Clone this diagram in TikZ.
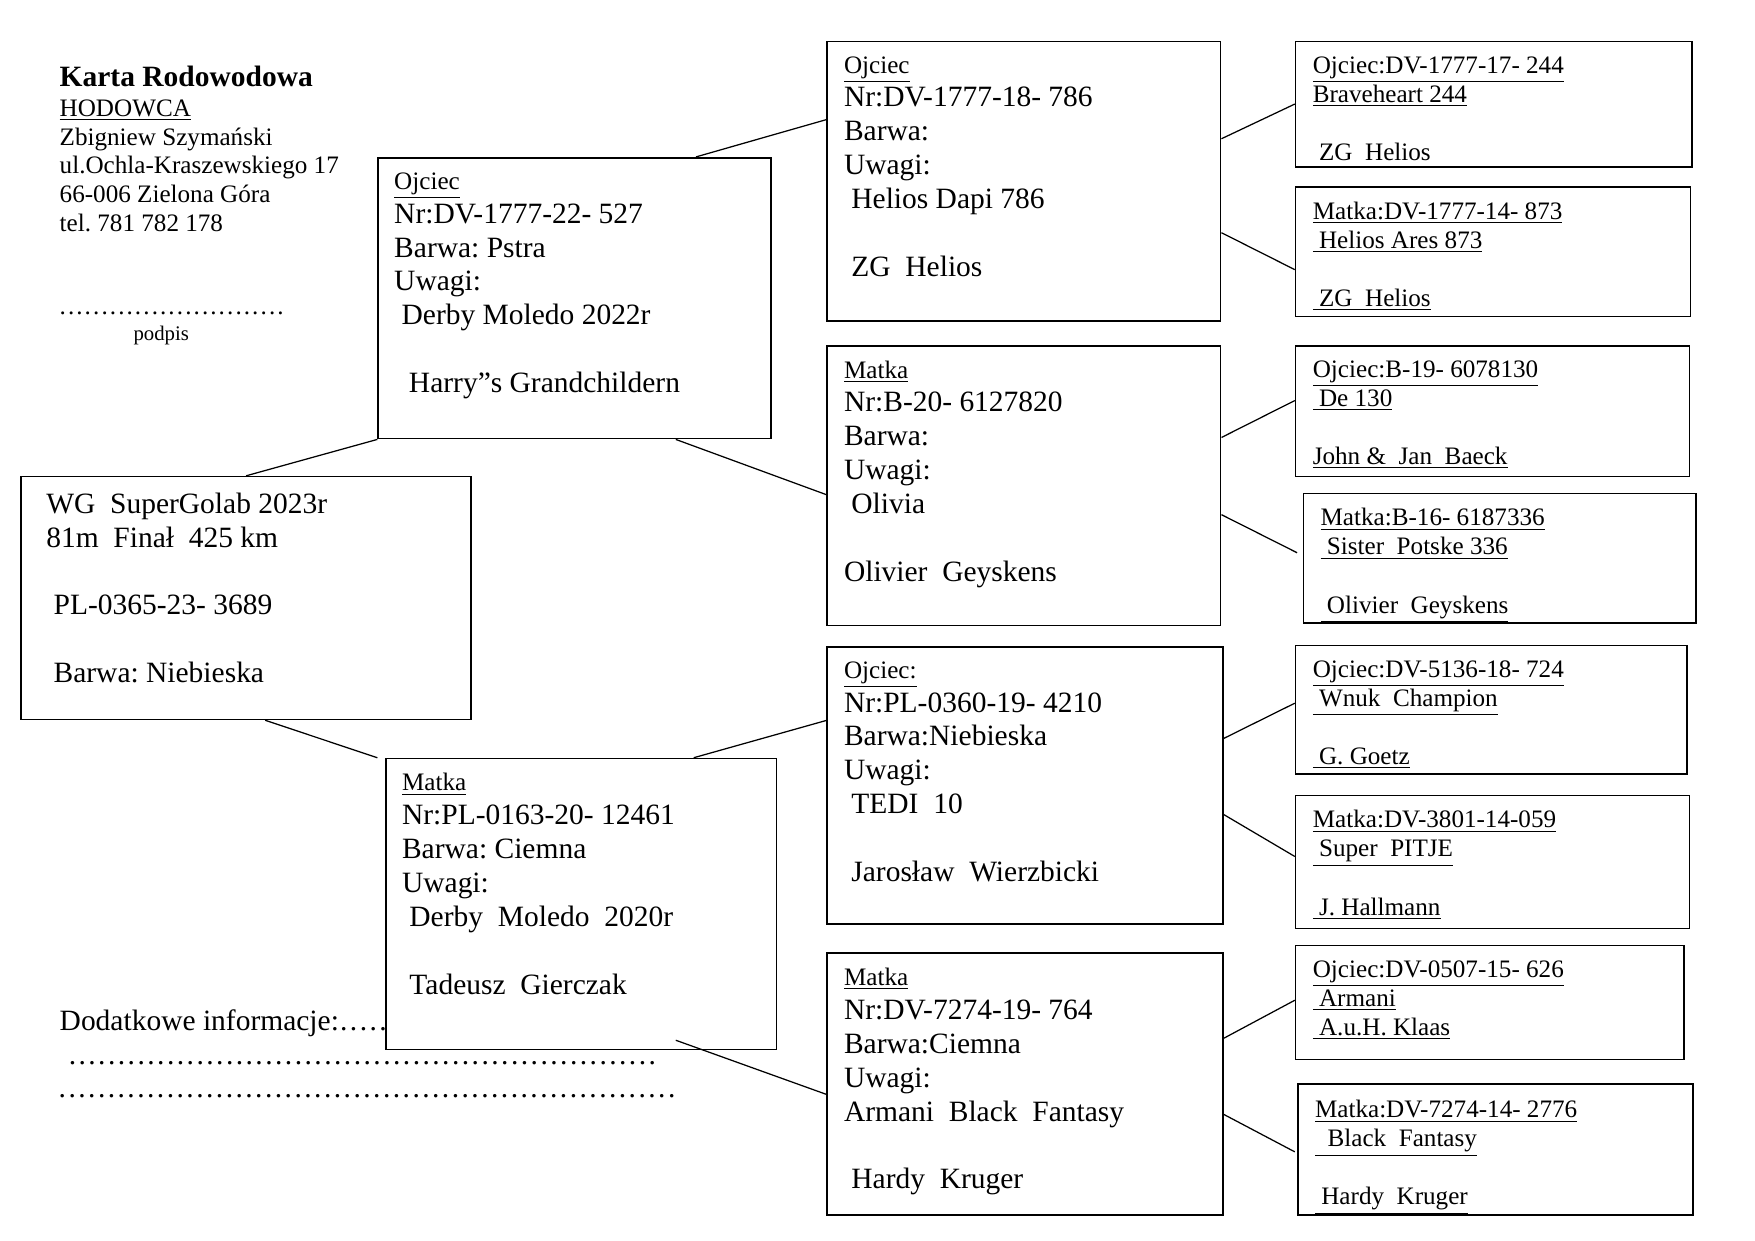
\documentclass[tikz,border=0pt]{standalone}
\usepackage{fontspec}
\setmainfont{Liberation Serif}
\usetikzlibrary{calc,fit}
\frenchspacing
\newcommand\ind{\hspace*{0.25em}}
\newcommand\etykieta[1]{{\fontsize{12.1}{14}\selectfont\underline{#1}}}
\newcommand\kropki[1]{\foreach \k in {1,...,#1}{\makebox[0.3333em]{.}}}

\begin{document}
\begin{tikzpicture}[x=0.018934cm,y=-0.018934cm]
  \tikzset{box/.style={draw,line width=0.8pt,inner sep=0pt},
    big/.style={anchor=north west,inner sep=0pt,align=left,font=\fontsize{14.2}{16.3}\selectfont},
    small/.style={anchor=north west,inner sep=0pt,align=left,font=\fontsize{12.1}{14}\selectfont},
    every edge/.style={draw,line width=0.6pt}}
  \useasboundingbox (0,0) rectangle (1568.6,1108.5);
  % naglowek
  \node[small,font=\fontsize{12.1}{13.8}\selectfont] (naglowek) at (53,59) {{\fontsize{14.2}{16}\selectfont\bfseries Karta Rodowodowa}\\[0.5pt]\underline{HODOWCA}\\Zbigniew Szymański\\ul.Ochla-Kraszewskiego 17\\66-006 Zielona Góra\\tel. 781 782 178};
  \node[anchor=base west,inner sep=0pt,font=\fontsize{12.1}{14}\selectfont] (kropki) at (52,281) {\kropki{27}};
  \node[anchor=base west,inner sep=0pt,font=\fontsize{10}{12}\selectfont] (podpis) at (119,304) {podpis};
  \node[anchor=base west,inner sep=0pt,font=\fontsize{14.2}{16}\selectfont] (dodatkowe) at (53,921) {Dodatkowe informacje:\kropki{5}};
  \node[anchor=base west,inner sep=0pt,font=\fontsize{14.2}{16}\selectfont] (kropki2) at (60,951) {\kropki{60}};
  \node[anchor=base west,inner sep=0pt,font=\fontsize{14.2}{16}\selectfont] (kropki3) at (51,981) {\kropki{63}};
  % ramki
  \node[box,fit={(19,426) (421,643)}] (ptak) {};
  \node[box,fit={(338,141) (689,392)}] (o) {};
  \node[box,fit={(345,678) (694,938)}] (m) {};
  \node[box,fit={(739,37) (1091,287)}] (oo) {};
  \node[box,fit={(739,309) (1091,559)}] (om) {};
  \node[box,fit={(739,578) (1093,826)}] (mo) {};
  \node[box,fit={(739,852) (1093,1086)}] (mm) {};
  \node[box,fit={(1158,37) (1512,149)}] (ooo) {};
  \node[box,fit={(1158,167) (1511,283)}] (oom) {};
  \node[box,fit={(1158,309) (1510,426)}] (omo) {};
  \node[box,fit={(1165,441) (1516,557)}] (omm) {};
  \node[box,fit={(1158,577) (1508,692)}] (moo) {};
  \node[box,fit={(1158,711) (1510,830)}] (mom) {};
  \node[box,fit={(1158,845) (1505,947)}] (mmo) {};
  \node[box,fit={(1160,969) (1513,1086)}] (mmm) {};
  % teksty
  \node[big] (ptak-t) at (41,440) {WG\ \ SuperGolab 2023r\\81m\ \ Finał\ \ 425 km\\[16.3pt]\ind PL-0365-23- 3689\\[16.3pt]\ind Barwa: Niebieska};
  \node[big] (o-t) at (352,154) {\etykieta{Ojciec}\\Nr:DV-1777-22- 527\\Barwa: Pstra\\Uwagi:\\\ind Derby Moledo 2022r\\[16.3pt]\ind\ind Harry”s Grandchildern};
  \node[big] (m-t) at (359,691) {\etykieta{Matka}\\Nr:PL-0163-20- 12461\\Barwa: Ciemna\\Uwagi:\\\ind Derby\ \ Moledo\ \ 2020r\\[16.3pt]\ind Tadeusz\ \ Gierczak};
  \node[big] (oo-t) at (754,50) {\etykieta{Ojciec}\\Nr:DV-1777-18- 786\\Barwa:\\Uwagi:\\\ind Helios Dapi 786\\[16.3pt]\ind ZG\ \ Helios};
  \node[big] (om-t) at (754,322) {\etykieta{Matka}\\Nr:B-20- 6127820\\Barwa:\\Uwagi:\\\ind Olivia\\[16.3pt]Olivier\ \ Geyskens};
  \node[big] (mo-t) at (754,591) {\etykieta{Ojciec:}\\Nr:PL-0360-19- 4210\\Barwa:Niebieska\\Uwagi:\\\ind TEDI\ \ 10\\[16.3pt]\ind Jarosław\ \ Wierzbicki};
  \node[big] (mm-t) at (754,865) {\etykieta{Matka}\\Nr:DV-7274-19- 764\\Barwa:Ciemna\\Uwagi:\\Armani\ \ Black\ \ Fantasy\\[16.3pt]\ind Hardy\ \ Kruger};
  \node[small] (ooo-t) at (1173,50) {\underline{Ojciec:DV-1777-17- 244}\\\underline{Braveheart 244}\\[14pt]\ind ZG\ \ Helios};
  \node[small] (oom-t) at (1173,180) {\underline{Matka:DV-1777-14- 873}\\\underline{\ Helios Ares 873}\\[14pt]\underline{\ ZG\ \ Helios}};
  \node[small] (omo-t) at (1173,322) {\underline{Ojciec:B-19- 6078130}\\\underline{\ De 130}\\[14pt]\underline{John \&\ \ Jan\ \ Baeck}};
  \node[small] (omm-t) at (1180,454) {\underline{Matka:B-16- 6187336}\\\underline{\ Sister\ \ Potske 336}\\[14pt]\underline{\ Olivier\ \ Geyskens}};
  \node[small] (moo-t) at (1173,590) {\underline{Ojciec:DV-5136-18- 724}\\\underline{\ Wnuk\ \ Champion}\\[14pt]\underline{\ G. Goetz}};
  \node[small] (mom-t) at (1173,724) {\underline{Matka:DV-3801-14-059}\\\underline{\ Super\ \ PITJE}\\[14pt]\underline{\ J. Hallmann}};
  \node[small] (mmo-t) at (1173,858) {\underline{Ojciec:DV-0507-15- 626}\\\underline{\ Armani}\\\underline{\ A.u.H. Klaas}};
  \node[small] (mmm-t) at (1175,983) {\underline{Matka:DV-7274-14- 2776}\\\underline{\ \ Black\ \ Fantasy}\\[14pt]\underline{\ Hardy\ \ Kruger}};
  % polaczenia
  \path (ptak.north) edge (o.south west)
        ($(ptak.south)+(17,0)$) edge ($(m.north west)+(-7,0)$);
  \path ($(o.north)+(108.5,0)$) edge ($(oo.west)+(0,-55)$)
        ($(o.south)+(90.5,0)$) edge ($(om.west)+(0,8)$)
        ($(m.north)+(100.5,0)$) edge ($(mo.west)+(0,-58)$)
        ($(m.south)+(84.5,-9)$) edge ($(mm.west)+(0,9)$);
  \path ($(oo.east)+(0,-38)$) edge (ooo.west)
        ($(oo.east)+(0,46)$) edge ($(oom.west)+(0,16)$)
        ($(om.east)+(0,-43)$) edge ($(omo.west)+(0,-9.5)$)
        ($(om.east)+(0,26)$) edge ($(omm.west)+(-5,-5)$)
        ($(mo.east)+(0,-42)$) edge ($(moo.west)+(0,-6)$)
        ($(mo.east)+(0,26)$) edge ($(mom.west)+(0,-5)$)
        ($(mm.east)+(0,-41)$) edge ($(mmo.west)+(0,-2)$)
        ($(mm.east)+(0,27)$) edge ($(mmm.west)+(-2,2)$);
\end{tikzpicture}
\end{document}
